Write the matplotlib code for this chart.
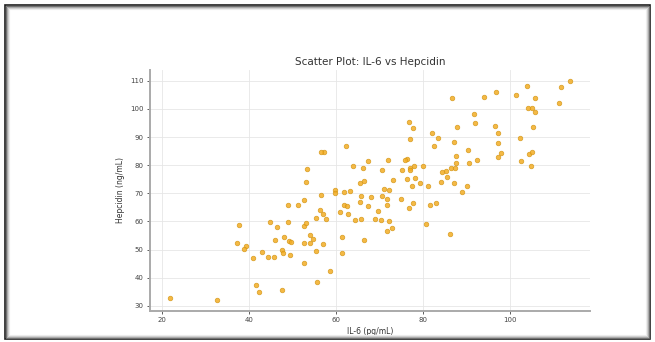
import matplotlib
matplotlib.use('Agg')
from matplotlib import pyplot as plt
from matplotlib.patches import Rectangle

# values
il6 = [21.8, 32.6, 37.6, 37.2, 39.3, 38.9, 40.8, 41.6, 42.2, 47.5, 43.0, 44.4, 45.7,
       44.9, 46.4, 46.0, 48.0, 49.2, 49.7, 49.0, 49.0, 51.3, 47.5, 47.7, 49.5,
       53.1, 52.6, 56.6, 59.8, 59.8, 61.7, 63.2, 65.5, 66.3, 65.7, 65.5, 68.1, 70.5,
       70.9, 72.2, 73.0, 76.3, 77.4, 79.3, 81.2, 84.0, 87.0, 90.0, 89.0, 74.8, 77.6,
       76.8, 71.8, 71.8, 81.6, 83.0, 80.7, 86.2, 52.5, 53.1, 55.4, 56.2, 56.9, 57.7,
       52.5, 54.0, 54.6, 54.0, 56.9, 55.4, 52.5, 55.6, 58.6, 61.3, 61.3, 66.5, 61.7,
       62.4, 60.9, 62.8, 64.4, 65.7, 67.4, 69.0, 69.7, 70.2, 72.2, 72.8, 71.8,
       76.8, 77.6, 77.0, 82.0, 82.4, 83.5, 87.7, 87.0, 91.6, 92.0, 96.6, 97.1, 90.4,
       87.5, 87.6, 90.6, 92.3, 86.4, 87.3, 85.3, 84.4, 85.4, 80.0, 77.9, 77.0, 76.4,
       75.9, 77.0, 75.1, 78.2, 72.0, 70.5, 67.4, 66.1, 63.8, 62.3, 57.1, 56.5,
       86.6, 94.1, 96.8, 53.3,
       101.4, 103.8, 105.7, 111.7, 113.8, 111.2, 104.2, 105.0, 105.7, 105.3, 102.3,
       97.1, 98.0, 97.3, 104.4, 105.0, 102.6, 104.7]
hepcidin = [32.6, 32.2, 58.6, 52.3, 51.3, 50.1, 47.0, 37.4, 35.0, 35.6, 49.2, 47.4, 47.4,
            59.8, 58.0, 53.3, 54.6, 53.1, 52.8, 59.7, 66.0, 66.0, 49.9, 48.7, 48.0,
            73.9, 67.6, 69.3, 71.3, 70.2, 70.5, 70.8, 73.7, 74.3, 69.0, 66.9, 68.8, 69.0,
            71.6, 71.3, 74.6, 74.9, 72.5, 73.5, 72.5, 73.9, 73.7, 72.5, 70.4, 67.8, 66.4,
            64.6, 67.8, 66.0, 65.9, 66.4, 59.0, 55.7, 58.4, 59.6, 61.3, 64.0, 62.7, 60.7,
            52.5, 55.1, 53.9, 52.3, 52.0, 49.5, 45.2, 38.6, 42.4, 48.7, 54.5, 53.3, 65.7,
            65.4, 63.3, 62.5, 60.5, 61.0, 65.4, 61.0, 63.7, 60.4, 60.1, 57.6, 56.6,
            95.5, 93.1, 89.2, 91.4, 86.9, 89.6, 93.7, 88.4, 98.2, 95.1, 94.0, 91.4, 85.5,
            83.4, 80.8, 80.8, 81.7, 79.0, 79.0, 77.8, 77.5, 75.8, 79.6, 79.8, 79.0, 82.2,
            82.0, 78.4, 78.4, 75.5, 82.0, 78.2, 81.3, 79.0, 79.8, 86.9, 84.7, 84.7,
            103.7, 104.1, 106.1, 78.6,
            104.9, 108.1, 103.7, 107.9, 109.9, 102.0, 100.2, 100.4, 99.0, 93.7, 89.8,
            87.8, 84.3, 82.9, 84.1, 84.5, 81.3, 79.8]

fig = plt.figure(figsize=(6.55, 3.42), dpi=100)
ax = fig.add_axes([0.229, 0.092, 0.672, 0.703])

ax.scatter(il6, hepcidin, s=11, color='#f3ad24', alpha=0.85,
           edgecolors='#d39412', linewidths=0.5, zorder=3)

ax.set_title('Scatter Plot: IL-6 vs Hepcidin', fontsize=7.5, color='#333333', pad=4)
ax.set_xlabel('IL-6 (pg/mL)', fontsize=5.5, color='#333333', labelpad=3)
ax.set_ylabel('Hepcidin (ng/mL)', fontsize=5.5, color='#333333', labelpad=4)

ax.set_xticks([20, 40, 60, 80, 100])
ax.set_yticks([30, 40, 50, 60, 70, 80, 90, 100, 110])
ax.tick_params(labelsize=5, colors='#444444', length=2.5, width=0.6, pad=2)
ax.grid(True, color='#e6e6e6', linewidth=0.6, zorder=0)

for side in ['top', 'right']:
    ax.spines[side].set_visible(False)
for side in ['left', 'bottom']:
    ax.spines[side].set_color('#aaaaaa')
    ax.spines[side].set_linewidth(1.4)

# screenshot frame with a soft inner shadow
W, H = 655.0, 342.0
shades = ['#1e1e1e', '#6f6f6f', '#a8a8a8', '#cfcfcf', '#ececec']
for i, c in enumerate(shades):
    fig.add_artist(Rectangle(((5 + i) / W, (3 + i) / H), (645 - 2 * i) / W, (334 - 2 * i) / H,
                             transform=fig.transFigure, fill=False,
                             edgecolor=c, linewidth=1.2 if i == 0 else 0.8))

fig.savefig('out.png', dpi=100)
